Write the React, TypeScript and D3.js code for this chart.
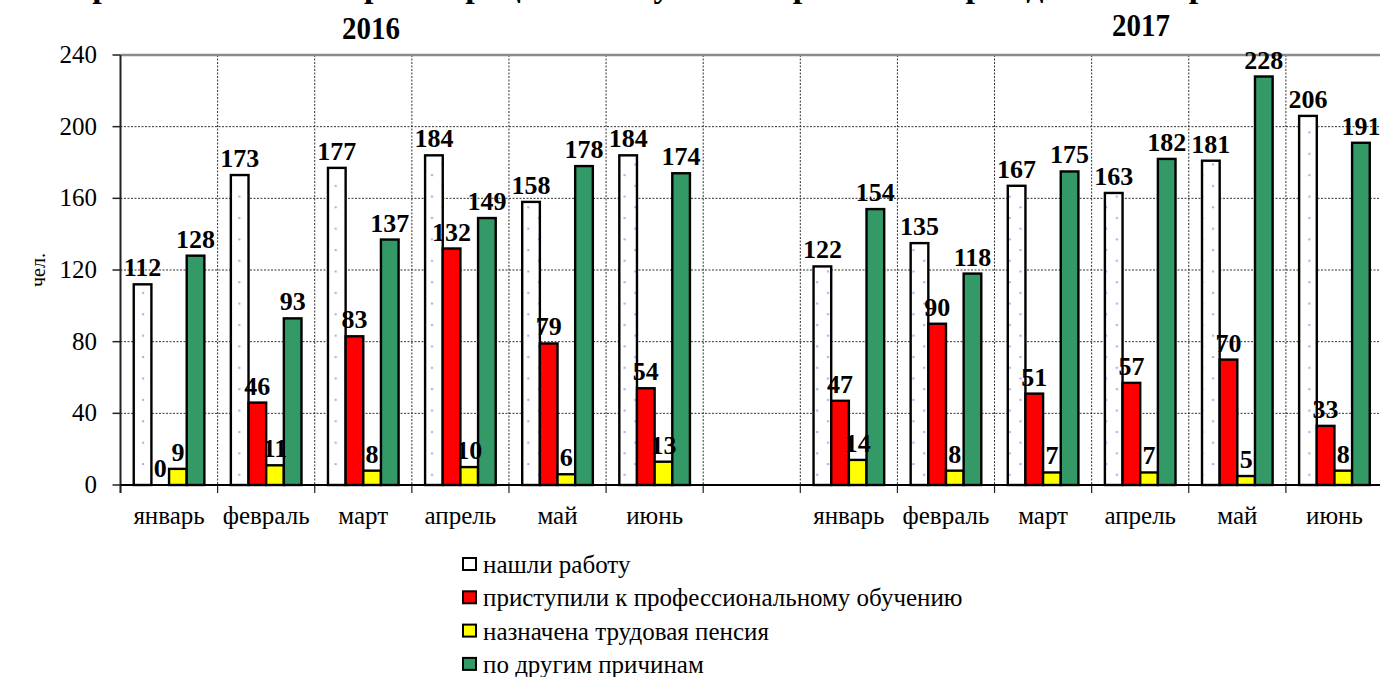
import React from "react";
import * as d3 from "d3";

const categories = ["январь", "февраль", "март", "апрель", "май", "июнь", "", "январь", "февраль", "март", "апрель", "май", "июнь"];
const seriesNames = ["нашли работу", "приступили к профессиональному обучению", "назначена трудовая пенсия", "по другим причинам"];
const foundJob: (number | null)[] = [112, 173, 177, 184, 158, 184, null, 122, 135, 167, 163, 181, 206];
const training: (number | null)[] = [0, 46, 83, 132, 79, 54, null, 47, 90, 51, 57, 70, 33];
const pension: (number | null)[] = [9, 11, 8, 10, 6, 13, null, 14, 8, 7, 7, 5, 8];
const other: (number | null)[] = [128, 93, 137, 149, 178, 174, null, 154, 118, 175, 182, 228, 191];
const yTicks = [0, 40, 80, 120, 160, 200, 240];
const yearLabels = ["2016", "2017"];
const title = "Причины снятия с регистрационного учета безработных граждан в январе-июне";

const seriesValues = [foundJob, training, pension, other];
const fills = ["url(#dots)", "#ff0000", "#ffff00", "#339966"];

export default function App() {
  const W = 1380, H = 677;
  const left = 120.5, right = 1383, top = 55, bottom = 485;
  const x = d3.scaleBand<number>().domain(d3.range(categories.length)).range([left, right]).padding(0);
  const inner = d3.scaleBand<number>().domain([0, 1, 2, 3]).range([0, x.bandwidth()]).paddingInner(0).paddingOuter(0.75);
  const y = d3.scaleLinear().domain([0, 240]).range([bottom, top]);
  const serif = "Liberation Serif";
  const ts = { fontFamily: serif };

  const boundaries = d3.range(categories.length + 1).map((i) => left + i * x.step());

  return (
    <svg width={W} height={H} style={{ position: "absolute", left: 0, top: 0, background: "#fff", fontFamily: serif }}>
      <defs>
        <pattern id="dots" patternUnits="userSpaceOnUse" width={21.4} height={21.4}>
          <rect width={21.4} height={21.4} fill="#fff" />
          <circle cx={4} cy={4} r={1.2} fill="#a8a8f0" />
          <circle cx={14.7} cy={14.7} r={1.2} fill="#a8a8f0" />
        </pattern>
      </defs>
      <rect width={W} height={H} fill="#fff" />
      {/* title, clipped at top edge as in the reference */}
      <text x={690} y={-3} textAnchor="middle" fontWeight="bold" fontSize={34} style={ts}>{title}</text>
      <text transform="translate(371,39) scale(1,1.12)" textAnchor="middle" fontWeight="bold" fontSize={29} style={ts}>{yearLabels[0]}</text>
      <text transform="translate(1141,36) scale(1,1.12)" textAnchor="middle" fontWeight="bold" fontSize={29} style={ts}>{yearLabels[1]}</text>

      {yTicks.filter((t) => t > 0 && t < 240).map((t) => (
        <line key={"h" + t} x1={left} x2={right} y1={y(t)} y2={y(t)} stroke="#333" strokeWidth={1} strokeDasharray="2,1.5" />
      ))}
      {boundaries.slice(1, -1).map((bx, i) => (
        <line key={"v" + i} x1={bx} x2={bx} y1={top} y2={bottom} stroke="#333" strokeWidth={1} strokeDasharray="2,1.5" />
      ))}
      <line x1={left} x2={right} y1={top} y2={top} stroke="#8a8a8a" strokeWidth={2.5} />
      <line x1={right - 1} x2={right - 1} y1={top} y2={bottom} stroke="#8a8a8a" strokeWidth={2.5} />

      {seriesValues.map((vals, s) =>
        vals.map((v, i) =>
          v === null ? null : (
            <rect key={`b${s}-${i}`} x={(x(i) as number) + (inner(s) as number)} y={y(v)} width={inner.bandwidth()} height={bottom - y(v)}
              fill={fills[s]} stroke="#000" strokeWidth={2.4} />
          )
        )
      )}

      <line x1={left} x2={left} y1={top} y2={bottom + 8} stroke="#222" strokeWidth={2} />
      {yTicks.map((t) => (
        <g key={"yt" + t}>
          <line x1={left - 8} x2={left} y1={y(t)} y2={y(t)} stroke="#222" strokeWidth={1.5} />
          <text x={97} y={y(t) + 8} textAnchor="end" fontSize={25} style={ts}>{t}</text>
        </g>
      ))}
      <line x1={left} x2={right} y1={bottom} y2={bottom} stroke="#000" strokeWidth={2} />
      {boundaries.map((bx, i) => (
        <line key={"xt" + i} x1={bx} x2={bx} y1={bottom} y2={bottom + 8} stroke="#222" strokeWidth={1.2} />
      ))}
      {categories.map((c, i) => (
        <text key={"c" + i} x={(x(i) as number) + x.bandwidth() / 2} y={524} textAnchor="middle" fontSize={25} style={ts}>{c}</text>
      ))}
      <text transform="translate(45,270) rotate(-90)" textAnchor="middle" fontSize={20} style={ts}>чел.</text>

      {seriesValues.map((vals, s) =>
        vals.map((v, i) =>
          v === null ? null : (
            <text key={`l${s}-${i}`} x={(x(i) as number) + (inner(s) as number) + inner.bandwidth() / 2} y={y(v) - 8}
              textAnchor="middle" fontWeight="bold" fontSize={26} style={ts}>{v}</text>
          )
        )
      )}

      {seriesNames.map((n, i) => (
        <g key={"lg" + i} transform={`translate(463, ${558 + i * 33.3})`}>
          <rect x={0} y={0} width={13} height={12} fill={i === 0 ? "#fff" : fills[i]} stroke="#000" strokeWidth={2} />
          <text x={20} y={15} fontSize={25} style={ts}>{n}</text>
        </g>
      ))}
    </svg>
  );
}
